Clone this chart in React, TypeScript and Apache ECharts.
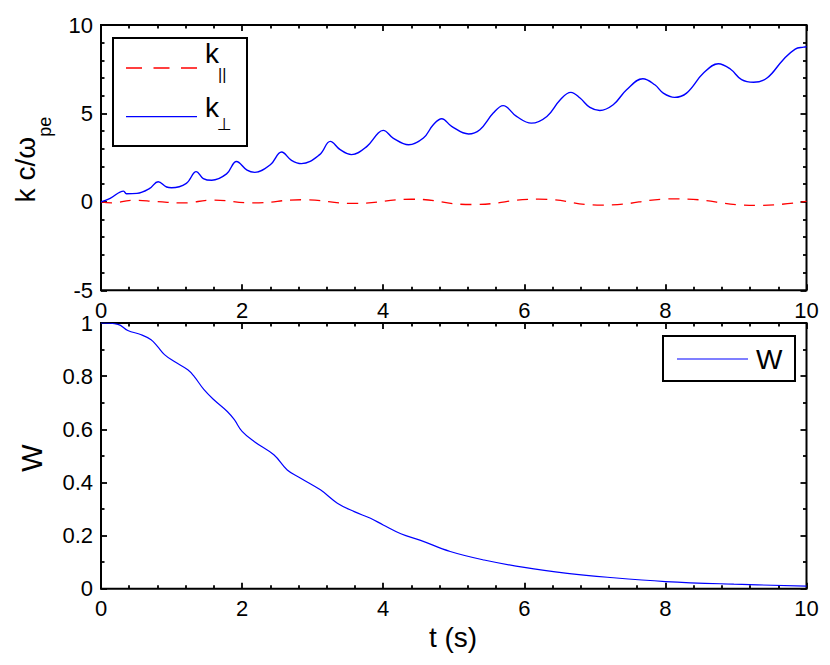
import React, { useEffect, useRef } from "react";
import * as echarts from "echarts";

// k_parallel (red dashed) : time, value
const kParT = [0, 0.15, 0.45, 0.8, 1.15, 1.6, 2.15, 2.85, 3.6, 4.4, 5.25, 6.2, 7.1, 8.15, 9.3, 10.0];
const kParV = [0, -0.06, 0.09, 0.01, -0.06, 0.1, -0.06, 0.12, -0.09, 0.15, -0.15, 0.15, -0.18, 0.17, -0.2, 0.03];

// k_perp (blue solid)
const kPerpT = [0, 0.13, 0.32, 0.36, 0.51, 0.69, 0.81, 0.93, 1.0, 1.21, 1.35, 1.45, 1.57, 1.78, 1.92, 2.07, 2.18, 2.4, 2.56, 2.7, 2.84, 3.1, 3.25, 3.39, 3.55, 3.77, 3.93, 4.0, 4.14, 4.36, 4.57, 4.71, 4.83, 4.97, 5.21, 5.37, 5.56, 5.7, 5.89, 6.1, 6.32, 6.51, 6.66, 6.79, 6.93, 7.07, 7.26, 7.45, 7.68, 7.85, 7.97, 8.13, 8.3, 8.54, 8.75, 8.92, 9.08, 9.25, 9.44, 9.67, 9.84, 9.96, 10.0];
const kPerpV = [0, 0.2, 0.61, 0.46, 0.48, 0.76, 1.14, 0.84, 0.8, 1.05, 1.71, 1.32, 1.22, 1.58, 2.28, 1.79, 1.67, 2.1, 2.82, 2.35, 2.16, 2.67, 3.42, 2.95, 2.67, 3.14, 3.89, 4.04, 3.61, 3.23, 3.61, 4.36, 4.7, 4.27, 3.84, 4.08, 5.02, 5.44, 4.83, 4.45, 4.83, 5.78, 6.19, 5.87, 5.34, 5.17, 5.49, 6.34, 6.96, 6.62, 6.15, 5.91, 6.15, 7.28, 7.81, 7.51, 6.91, 6.76, 7.0, 8.04, 8.64, 8.75, 8.77];

// W (blue solid, lower panel)
const wT = [0, 0.24, 0.38, 0.57, 0.71, 0.8, 0.9, 1.04, 1.23, 1.32, 1.46, 1.6, 1.79, 1.89, 2.0, 2.17, 2.45, 2.64, 2.83, 3.11, 3.35, 3.59, 3.82, 4.0, 4.25, 4.53, 4.95, 5.43, 6.0, 6.61, 7.18, 8.0, 8.97, 10.0];
const wV = [1.0, 0.995, 0.972, 0.956, 0.937, 0.912, 0.881, 0.855, 0.824, 0.799, 0.749, 0.711, 0.667, 0.636, 0.592, 0.554, 0.504, 0.447, 0.416, 0.372, 0.322, 0.29, 0.265, 0.24, 0.207, 0.182, 0.14, 0.108, 0.08, 0.058, 0.043, 0.027, 0.017, 0.01];

// axis settings
const tTicks = { min: 0, max: 10, interval: 2 };
const kTicks = { min: -5, max: 10, interval: 5 };
const wTicks = { min: 0, max: 1, interval: 0.2 };

const FONT = "'Liberation Sans', Arial, Helvetica, sans-serif";

const zip = (a: number[], b: number[]) => a.map((x, i) => [x, b[i]]);

function axis(kind: "x" | "y", gridIndex: number, position: string, ticks: any, minorSplit: number, showLabel: boolean) {
  return {
    type: "value",
    gridIndex,
    position,
    min: ticks.min,
    max: ticks.max,
    interval: ticks.interval,
    axisLine: { show: false, onZero: false },
    axisTick: { show: true, inside: true, length: 6, lineStyle: { color: "#000", width: 1.8 } },
    minorTick: { show: true, splitNumber: minorSplit, length: 3.5, lineStyle: { color: "#000", width: 1.8 } },
    splitLine: { show: false },
    minorSplitLine: { show: false },
    axisLabel: {
      show: showLabel,
      margin: kind === "x" ? 9 : 8,
      color: "#000",
      fontSize: 22,
      fontFamily: FONT,
    },
  };
}

export default function App() {
  const ref = useRef<HTMLDivElement>(null);
  useEffect(() => {
    document.body.style.margin = "0";
    const chart = echarts.init(ref.current!, null, { renderer: "svg" });
    const option: any = {
      animation: false,
      backgroundColor: "#fff",
      textStyle: { fontFamily: FONT },
      grid: [
        { left: 101, top: 25, width: 705.5, height: 265.3, show: true, borderColor: "#000", borderWidth: 2, backgroundColor: "transparent" },
        { left: 101, top: 323, width: 705.5, height: 265.7, show: true, borderColor: "#000", borderWidth: 2, backgroundColor: "transparent" },
      ],
      xAxis: [
        axis("x", 0, "bottom", tTicks, 5, true),
        axis("x", 0, "top", tTicks, 5, false),
        axis("x", 1, "bottom", tTicks, 5, true),
        axis("x", 1, "top", tTicks, 5, false),
      ],
      yAxis: [
        axis("y", 0, "left", kTicks, 5, true),
        axis("y", 0, "right", kTicks, 5, false),
        axis("y", 1, "left", wTicks, 2, true),
        axis("y", 1, "right", wTicks, 2, false),
      ],
      series: [
        {
          name: "k∥",
          type: "line",
          xAxisIndex: 0,
          yAxisIndex: 0,
          data: zip(kParT, kParV),
          smooth: 0.5,
          showSymbol: false,
          symbol: "none",
          lineStyle: { color: "#ff0000", width: 1.3, type: [11, 8] },
          z: 3,
        },
        {
          name: "k⊥",
          type: "line",
          xAxisIndex: 0,
          yAxisIndex: 0,
          data: zip(kPerpT, kPerpV),
          smooth: 0.4,
          showSymbol: false,
          symbol: "none",
          lineStyle: { color: "#0000ff", width: 1.4 },
          z: 4,
        },
        {
          name: "W",
          type: "line",
          xAxisIndex: 2,
          yAxisIndex: 2,
          data: zip(wT, wV),
          smooth: 0.4,
          showSymbol: false,
          symbol: "none",
          lineStyle: { color: "#0000ff", width: 1.2 },
          z: 3,
        },
      ],
      graphic: [
        // y-axis name, upper panel
        { type: "text", x: 25.3, y: 169.7, rotation: Math.PI / 2, style: { text: "k c/ω", fontSize: 28, fontFamily: FONT, fill: "#000", align: "center", verticalAlign: "middle" } },
        { type: "text", x: 44.8, y: 126.7, rotation: Math.PI / 2, style: { text: "pe", fontSize: 18, fontFamily: FONT, fill: "#000", align: "center", verticalAlign: "middle" } },
        // y-axis name, lower panel
        { type: "text", x: 31.5, y: 458, rotation: Math.PI / 2, style: { text: "W", fontSize: 29, fontFamily: FONT, fill: "#000", align: "center", verticalAlign: "middle" } },
        // x-axis name
        { type: "text", x: 453, y: 637.3, style: { text: "t (s)", fontSize: 28, fontFamily: FONT, fill: "#000", align: "center", verticalAlign: "middle" } },
        // legend, upper panel
        {
          type: "group",
          z: 100,
          children: [
            { type: "rect", shape: { x: 113, y: 38, width: 134, height: 108 }, style: { fill: "#fff", stroke: "#000", lineWidth: 2 } },
            { type: "line", shape: { x1: 126, y1: 68, x2: 197, y2: 68 }, style: { stroke: "#ff0000", lineWidth: 1.3, lineDash: [16, 11.5] } },
            { type: "text", x: 205, y: 53.3, style: { text: "k", fontSize: 28, fontFamily: FONT, fill: "#000", align: "left", verticalAlign: "middle" } },
            { type: "text", x: 218, y: 74, style: { text: "||", fontSize: 16, fontFamily: FONT, fill: "#000", align: "left", verticalAlign: "middle" } },
            { type: "line", shape: { x1: 126, y1: 116.7, x2: 197, y2: 116.7 }, style: { stroke: "#0000ff", lineWidth: 1.3 } },
            { type: "text", x: 205, y: 107.3, style: { text: "k", fontSize: 28, fontFamily: FONT, fill: "#000", align: "left", verticalAlign: "middle" } },
            { type: "text", x: 217, y: 124, style: { text: "⊥", fontSize: 17, fontFamily: "'DejaVu Sans', " + FONT, fill: "#000", align: "left", verticalAlign: "middle" } },
          ],
        },
        // legend, lower panel
        {
          type: "group",
          z: 100,
          children: [
            { type: "rect", shape: { x: 663, y: 336, width: 132, height: 45 }, style: { fill: "#fff", stroke: "#000", lineWidth: 2 } },
            { type: "line", shape: { x1: 677, y1: 359, x2: 748, y2: 359 }, style: { stroke: "#0000ff", lineWidth: 1.2 } },
            { type: "text", x: 756, y: 359.6, style: { text: "W", fontSize: 28, fontFamily: FONT, fill: "#000", align: "left", verticalAlign: "middle" } },
          ],
        },
      ],
    };
    chart.setOption(option);
    return () => chart.dispose();
  }, []);
  return <div ref={ref} style={{ width: 830, height: 665 }} />;
}
